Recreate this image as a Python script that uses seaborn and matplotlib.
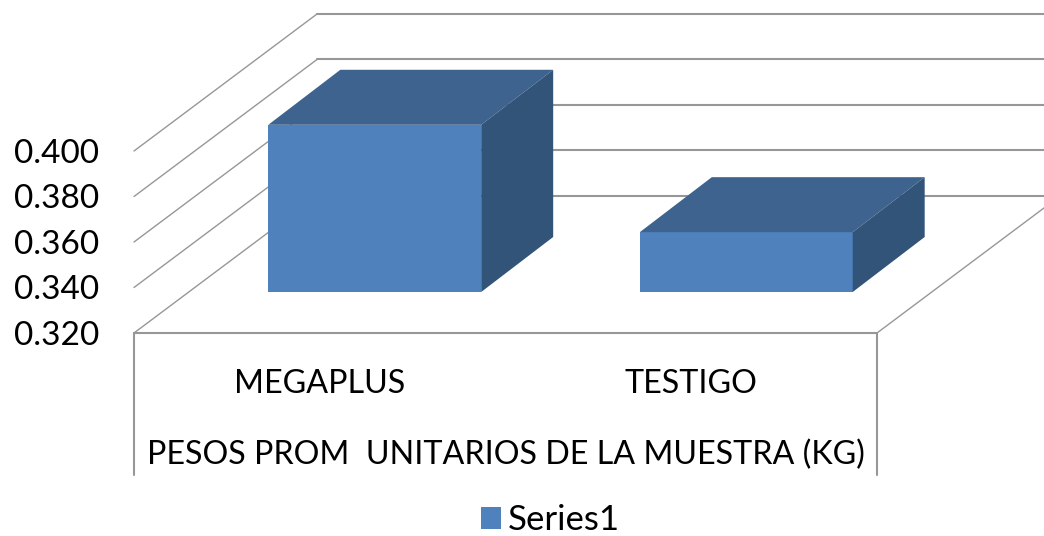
import matplotlib
matplotlib.use("Agg")
import matplotlib.pyplot as plt
import seaborn as sns
import pandas as pd
from matplotlib.lines import Line2D
from matplotlib.patches import Polygon
from matplotlib.transforms import IdentityTransform

categorias = ["MEGAPLUS", "TESTIGO"]
pesos = [0.3935, 0.3463]
serie = ["Series1", "Series1"]
y_ticks = [0.32, 0.34, 0.36, 0.38, 0.40]
y_labels = ["0.320", "0.340", "0.360", "0.380", "0.400"]
x_titulo = "PESOS PROM  UNITARIOS DE LA MUESTRA (KG)"

W, H = 1044, 536
sns.set_style("white")
plt.rcParams["font.family"] = ["Lato", "DejaVu Sans"]
plt.rcParams["text.color"] = "black"
plt.rcParams["axes.labelcolor"] = "black"
plt.rcParams["xtick.labelcolor"] = "black"
plt.rcParams["ytick.labelcolor"] = "black"
GRID = "#979797"
FRONT, TOP, SIDE = "#4f81bd", "#3e638f", "#325479"


def box(left, right, bottom, top):
    # pixel box measured from the top left corner of the picture
    return [left / W, 1 - bottom / H, (right - left) / W, (bottom - top) / H]


fig = plt.figure(figsize=(W / 100, H / 100), dpi=100)
ax_front = fig.add_axes(box(134, 877, 333, 151))
ax = fig.add_axes(box(189, 932, 292, 110))
ax.patch.set_alpha(0)

# front plane, carries the labels
ax_front.set_xlim(-0.5, 1.5)
ax_front.set_ylim(y_ticks[0], y_ticks[-1])
ax_front.set_xticks([0, 1], categorias, fontsize=23.2)
ax_front.set_yticks(y_ticks, y_labels, fontsize=24)
ax_front.tick_params(axis="x", length=0, pad=26)
ax_front.tick_params(axis="y", length=0, pad=25)
ax_front.set_xlabel(x_titulo, fontsize=23.2, labelpad=29)
sns.despine(ax=ax_front, left=True, bottom=True)
ax_front.patch.set_alpha(0)

# plane of the bars, set back from the front
data = pd.DataFrame({"categoria": categorias, "peso": pesos, "serie": serie})
sns.barplot(data=data, x="categoria", y="peso", hue="serie", palette=[FRONT],
            saturation=1, width=0.573, linewidth=0, ax=ax)
ax.set_xlim(-0.5, 1.5)
ax.set_ylim(y_ticks[0], y_ticks[-1])
ax.axis("off")


def line(xs, ys, lw=1.3):
    ax_front.add_line(Line2D(xs, ys, color=GRID, lw=lw, clip_on=False,
                             transform=IdentityTransform()))


# walls: depth of the chart in pixels
fig.canvas.draw()
wall_dx, wall_dy = 183, 137
x0 = ax_front.transData.transform((-0.5, 0.32))[0]
x1 = ax_front.transData.transform((1.5, 0.32))[0]
for t in y_ticks:
    y = ax_front.transData.transform((0, t))[1]
    line([x0, x0 + wall_dx], [y, y + wall_dy], lw=1)
    line([x0 + wall_dx, x1 + wall_dx], [y + wall_dy, y + wall_dy], lw=1.5)
y0 = ax_front.transData.transform((0, 0.32))[1]
line([x0, x1], [y0, y0], lw=1.5)
line([x1, x1 + wall_dx], [y0, y0 + wall_dy], lw=1)
line([x0, x0], [y0, y0 - 142], lw=1.5)
line([x1, x1], [y0, y0 - 142], lw=1.5)

# top and side of every bar
bar_dx, bar_dy = 72, 55
for p in ax.patches:
    if p.get_width() == 0 or p.get_height() == 0:
        continue
    left, right = p.get_x(), p.get_x() + p.get_width()
    xa, yb = ax.transData.transform((left, y_ticks[0]))
    xb, yt = ax.transData.transform((right, p.get_height()))
    top = [(xa, yt), (xb, yt), (xb + bar_dx, yt + bar_dy), (xa + bar_dx, yt + bar_dy)]
    side = [(xb, yb), (xb + bar_dx, yb + bar_dy), (xb + bar_dx, yt + bar_dy), (xb, yt)]
    ax.add_patch(Polygon(top, color=TOP, lw=0, clip_on=False, transform=IdentityTransform()))
    ax.add_patch(Polygon(side, color=SIDE, lw=0, clip_on=False, transform=IdentityTransform()))

leg = ax.legend(loc="center", bbox_to_anchor=(550.5 / W, 1 - 520 / H),
                bbox_transform=fig.transFigure, frameon=False, fontsize=25,
                handlelength=0.58, handleheight=0.58, handletextpad=0.21,
                borderpad=0, title=None)

fig.savefig("out.png", dpi=100)
